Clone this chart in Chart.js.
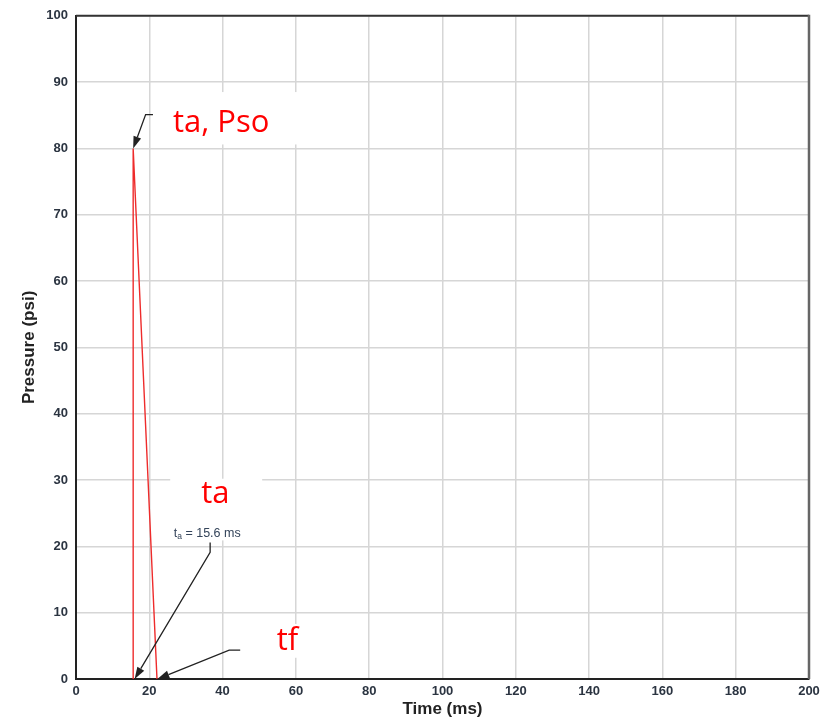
<!DOCTYPE html>
<html>
  <head>
    <title>Pressure vs time</title>
    <script src="https://cdn.jsdelivr.net/npm/chart.js@4.4.0/dist/chart.umd.min.js"></script>
    <style>
      body { margin: 0; background: #fff; }
    </style>
  </head>
  <body>
    <canvas id="chart" width="833" height="721"></canvas>

    <script type="text/javascript">

      // pressure trace (ms, psi)
      const timeMs = [15.6, 15.6, 22.1];
      const pressurePsi = [0, 80, 0];

      // axis ranges / ticks
      const xMin = 0, xMax = 200, xStep = 20;
      const yMin = 0, yMax = 100, yStep = 10;

      // labels
      const xTitle = 'Time (ms)';
      const yTitle = 'Pressure (psi)';
      const taValue = '= 15.6 ms';

      const points = timeMs.map((t, i) => ({ x: t, y: pressurePsi[i] }));

      // callouts, in data units
      const callouts = {
        boxes: [
          [21.6, 88.5, 66.7, 80.6],
          [25.7, 30.2, 50.8, 20.9],
          [52.5, 8.3, 62.8, 3.2]
        ],
        arrows: [
          [[21.0, 85.1], [19.0, 85.1], [15.6, 80]],
          [[36.6, 20.6], [36.6, 19.1], [16.0, 0]],
          [[44.8, 4.35], [41.8, 4.35], [22.2, 0]]
        ],
        labels: [
          { text: 'ta, Pso', x: 39.6, y: 83.8 },
          { text: 'ta', x: 38.0, y: 27.8 },
          { text: 'tf', x: 57.7, y: 5.7 }
        ]
      };

      const annot = {
        id: 'annot',
        beforeDatasetsDraw(chart) {
          const ctx = chart.ctx, xs = chart.scales.x, ys = chart.scales.y;
          ctx.save();
          ctx.fillStyle = '#fff';
          callouts.boxes.forEach((b) => {
            const x1 = xs.getPixelForValue(b[0]), y1 = ys.getPixelForValue(b[1]);
            const x2 = xs.getPixelForValue(b[2]), y2 = ys.getPixelForValue(b[3]);
            ctx.fillRect(x1, y1, x2 - x1, y2 - y1);
          });
          ctx.restore();
        },
        afterDatasetsDraw(chart) {
          const ctx = chart.ctx, xs = chart.scales.x, ys = chart.scales.y;
          const a = chart.chartArea;
          ctx.save();

          // frame top / right
          ctx.strokeStyle = '#333';
          ctx.lineWidth = 2;
          ctx.beginPath();
          ctx.moveTo(a.left, a.top);
          ctx.lineTo(a.right, a.top);
          ctx.stroke();
          ctx.strokeStyle = '#666';
          ctx.lineWidth = 2.5;
          ctx.beginPath();
          ctx.moveTo(a.right, a.top - 1);
          ctx.lineTo(a.right, a.bottom);
          ctx.stroke();

          // arrows
          ctx.strokeStyle = '#222';
          ctx.fillStyle = '#222';
          ctx.lineWidth = 1.3;
          callouts.arrows.forEach((pts) => {
            const p = pts.map((q) => [xs.getPixelForValue(q[0]), ys.getPixelForValue(q[1])]);
            const n = p.length;
            const ang = Math.atan2(p[n - 1][1] - p[n - 2][1], p[n - 1][0] - p[n - 2][0]);
            const len = 12, hw = 4;
            const bx = p[n - 1][0] - len * Math.cos(ang), by = p[n - 1][1] - len * Math.sin(ang);
            ctx.beginPath();
            ctx.moveTo(p[0][0], p[0][1]);
            for (let i = 1; i < n - 1; i++) ctx.lineTo(p[i][0], p[i][1]);
            ctx.lineTo(bx, by);
            ctx.stroke();
            ctx.beginPath();
            ctx.moveTo(p[n - 1][0], p[n - 1][1]);
            ctx.lineTo(bx + hw * Math.sin(ang), by - hw * Math.cos(ang));
            ctx.lineTo(bx - hw * Math.sin(ang), by + hw * Math.cos(ang));
            ctx.closePath();
            ctx.fill();
          });

          // red labels
          ctx.fillStyle = '#ff0000';
          ctx.font = '31px "Open Sans"';
          ctx.textAlign = 'center';
          ctx.textBaseline = 'middle';
          callouts.labels.forEach((l) => {
            ctx.fillText(l.text, xs.getPixelForValue(l.x), ys.getPixelForValue(l.y));
          });

          // small "t_a = 15.6 ms" label
          const cx = xs.getPixelForValue(35.8), cy = ys.getPixelForValue(22.1);
          ctx.fillStyle = '#34445a';
          ctx.textAlign = 'left';
          ctx.textBaseline = 'alphabetic';
          const big = '12.5px "Liberation Sans"', small = '8.5px "Liberation Sans"';
          ctx.font = big;
          const wT = ctx.measureText('t').width;
          const wRest = ctx.measureText(' ' + taValue).width;
          ctx.font = small;
          const wA = ctx.measureText('a').width;
          const x0 = cx - (wT + wA + wRest) / 2;
          const base = cy + 4.5;
          ctx.font = big;
          ctx.fillText('t', x0, base);
          ctx.font = small;
          ctx.fillText('a', x0 + wT, base + 2);
          ctx.font = big;
          ctx.fillText(' ' + taValue, x0 + wT + wA, base);

          ctx.restore();
        }
      };

      const tickFont = { family: 'Liberation Sans', size: 13, weight: 'bold' };
      const titleFont = { family: 'Liberation Sans', size: 17, weight: 'bold' };

      const ctx = document.getElementById('chart').getContext('2d');
      const myChart = new Chart(ctx, {
        type: 'scatter',
        data: {
          datasets: [{
            data: points,
            showLine: true,
            fill: false,
            borderColor: '#ee2b2b',
            borderWidth: 1.4,
            pointRadius: 0,
            tension: 0
          }]
        },
        options: {
          responsive: false,
          animation: false,
          layout: { padding: { top: 13, right: 24, left: 0, bottom: 0 } },
          plugins: {
            legend: { display: false },
            tooltip: { enabled: false }
          },
          scales: {
            x: {
              type: 'linear',
              min: xMin,
              max: xMax,
              ticks: { stepSize: xStep, font: tickFont, color: '#2b3441', padding: 5, maxRotation: 0 },
              grid: { color: '#d6d6d6', lineWidth: 1.5, drawTicks: false },
              border: { color: '#222', width: 2 },
              title: { display: true, text: xTitle, font: titleFont, color: '#222', padding: { top: 0, bottom: 1 } },
              afterFit: (s) => { s.height = 42; }
            },
            y: {
              type: 'linear',
              min: yMin,
              max: yMax,
              ticks: { stepSize: yStep, font: tickFont, color: '#2b3441', padding: 8 },
              grid: { color: '#d6d6d6', lineWidth: 1.5, drawTicks: false },
              border: { color: '#222', width: 2 },
              title: { display: true, text: yTitle, font: titleFont, color: '#222', padding: { top: 19, bottom: 0 } },
              afterFit: (s) => { s.width = 76; }
            }
          }
        },
        plugins: [annot]
      });

    </script>
  </body>
</html>
